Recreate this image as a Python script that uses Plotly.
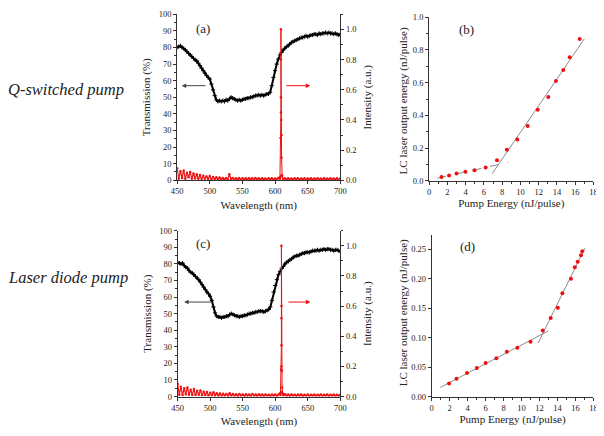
import plotly.graph_objects as go

# ---------------- data ----------------
wl = [450 + 2.5 * i for i in range(101)]

trans_a = [80, 80.5, 81, 80, 79.5, 78.5, 77.5, 76.5, 75.5, 74.5, 73.5,
           72.5, 72, 70.5, 69, 67.5, 66, 64.5, 63, 62, 61,
           58, 54.5, 51, 48.5, 47.5, 48, 47.5, 48, 47.5, 48.5,
           48, 49, 50, 49.5, 49, 48.5, 48, 48.5, 48, 48.5,
           49, 49, 49.5, 49.5, 50, 50, 50.5, 51, 51, 51.5,
           51, 51.5, 51, 51.5, 52, 52, 53, 57, 62, 66,
           70, 73, 75.5, 77, 78.5, 79.5, 80.5, 81, 82, 83,
           83.5, 84, 84.5, 85, 85.5, 86, 86, 86.5, 87, 86.5,
           87, 87.5, 87.5, 88, 88, 87.5, 88.5, 88, 88.5, 88.5,
           89, 88.5, 89, 88.5, 88.5, 88, 88.5, 88, 87.5, 88]

red_a = [0.08, 0.01, 0.06, 0.015, 0.065, 0.01, 0.05, 0.02, 0.055, 0.01, 0.045,
         0.012, 0.04, 0.01, 0.035, 0.008, 0.03, 0.01, 0.025, 0.008, 0.028,
         0.006, 0.022, 0.008, 0.02, 0.005, 0.018, 0.006, 0.016, 0.005, 0.015,
         0.006, 0.04, 0.005, 0.016, 0.004, 0.014, 0.005, 0.015, 0.004, 0.013,
         0.005, 0.014, 0.004, 0.013, 0.005, 0.014, 0.004, 0.015, 0.005, 0.013,
         0.004, 0.014, 0.005, 0.012, 0.004, 0.013, 0.005, 0.014, 0.004, 0.012,
         0.005, 0.015, 0.02, 0.035, 0.006, 0.014, 0.004, 0.013, 0.005, 0.012,
         0.004, 0.013, 0.005, 0.014, 0.004, 0.012, 0.005, 0.013, 0.004, 0.012,
         0.005, 0.013, 0.004, 0.012, 0.005, 0.014, 0.004, 0.012, 0.005, 0.013,
         0.004, 0.012, 0.005, 0.013, 0.004, 0.012, 0.005, 0.014, 0.004, 0.012]

spike_a_wl = [607.5, 608.5, 609, 609, 609, 609, 609.5, 610, 610, 611]
spike_a_int = [0.01, 0.28, 0.45, 1.0, 0.8, 0.55, 0.4, 0.3, 0.15, 0.03]

trans_c = [81, 80.5, 80, 80.5, 79, 78, 77.5, 76, 75, 74.5, 73.5,
           72.5, 71.5, 70.5, 69, 67.5, 66, 64.5, 63, 62, 60.5,
           58, 54, 50.5, 48.5, 48, 48, 47.5, 48, 48, 48.5,
           48.5, 49.5, 50, 49.5, 49, 48.5, 48.5, 48, 48.5, 48.5,
           49, 49, 49.5, 50, 50, 50.5, 50.5, 51, 51, 51.5,
           51.5, 51.5, 51, 51.5, 52, 52.5, 54, 58, 63, 67,
           70.5, 73.5, 75.5, 77.5, 78.5, 80, 81, 81.5, 82.5, 83,
           84, 84.5, 85, 85, 85.5, 86, 86.5, 86.5, 87, 87,
           87, 87.5, 88, 88, 88, 88.5, 88, 88.5, 88.5, 89,
           88.5, 89, 89, 88.5, 88.5, 88, 88.5, 88.5, 88, 87.5]

red_c = [0.085, 0.012, 0.065, 0.01, 0.055, 0.015, 0.06, 0.012, 0.045, 0.01, 0.05,
         0.01, 0.038, 0.012, 0.04, 0.008, 0.032, 0.01, 0.03, 0.007, 0.025,
         0.008, 0.028, 0.006, 0.022, 0.006, 0.02, 0.005, 0.018, 0.006, 0.016,
         0.005, 0.022, 0.006, 0.017, 0.005, 0.015, 0.004, 0.016, 0.005, 0.014,
         0.004, 0.015, 0.005, 0.014, 0.004, 0.016, 0.005, 0.013, 0.004, 0.015,
         0.005, 0.013, 0.004, 0.014, 0.005, 0.012, 0.004, 0.014, 0.005, 0.013,
         0.004, 0.014, 0.022, 0.03, 0.008, 0.015, 0.005, 0.013, 0.004, 0.014,
         0.005, 0.012, 0.004, 0.013, 0.005, 0.014, 0.004, 0.012, 0.005, 0.013,
         0.004, 0.012, 0.005, 0.013, 0.004, 0.012, 0.005, 0.013, 0.004, 0.012,
         0.005, 0.013, 0.004, 0.012, 0.005, 0.013, 0.004, 0.012, 0.005, 0.012]

spike_c_wl = [608, 609, 609.5, 609.5, 609.5, 609.5, 609.5, 610, 610.5, 611.5]
spike_c_int = [0.01, 0.18, 0.34, 1.0, 0.6, 0.52, 0.2, 0.17, 0.06, 0.02]

pump_b = [1.36, 2.18, 3.0, 3.97, 4.97, 6.19, 7.44, 8.52, 9.66, 10.8, 11.9, 13.06, 13.9, 14.7, 15.4, 16.5]
out_b = [0.024, 0.034, 0.046, 0.056, 0.066, 0.083, 0.127, 0.19, 0.254, 0.336, 0.435, 0.513, 0.61, 0.678, 0.755, 0.867]
fit_b1_x = [0.9, 8.7]
fit_b1_y = [0.017, 0.114]
fit_b2_x = [6.9, 17.0]
fit_b2_y = [0.044, 0.867]

pump_d = [1.93, 2.76, 3.93, 5.02, 6.0, 7.2, 8.36, 9.53, 11.0, 12.36, 13.24, 14.04, 14.55, 15.5, 15.93, 16.25, 16.62, 16.76]
out_d = [0.022, 0.030, 0.040, 0.0486, 0.057, 0.065, 0.076, 0.083, 0.093, 0.112, 0.1335, 0.151, 0.1755, 0.200, 0.2197, 0.229, 0.240, 0.247]
fit_d1_x = [0.95, 13.0]
fit_d1_y = [0.0155, 0.1115]
fit_d2_x = [11.85, 17.05]
fit_d2_y = [0.091, 0.252]

# ---------------- style ----------------
FONT = "Times New Roman, Liberation Serif, serif"
RED = "#ee1111"
GRAY = "#8c8c8c"
TXT = "#222222"
OFF = 8  # page body margin of the HTML page
W, H = 604 - OFF, 436 - OFF


def px_x(p):
    return (p - OFF) / W


def px_y(p):
    return 1 - (p - OFF) / H


fig = go.Figure()

# panel (a)
fig.add_trace(go.Scatter(x=wl, y=trans_a, mode="lines+markers", xaxis="x", yaxis="y",
                         line=dict(color="black", width=2),
                         marker=dict(symbol="cross-thin", size=3, line=dict(color="black", width=1))))
fig.add_trace(go.Scatter(x=wl, y=red_a, mode="lines+markers", xaxis="x", yaxis="y2",
                         line=dict(color=RED, width=1.2), marker=dict(color=RED, size=2.5)))
fig.add_trace(go.Scatter(x=spike_a_wl, y=spike_a_int, mode="lines+markers", xaxis="x", yaxis="y2",
                         line=dict(color=RED, width=1), marker=dict(color=RED, size=2.5)))

# panel (b)
fig.add_trace(go.Scatter(x=fit_b1_x, y=fit_b1_y, mode="lines", xaxis="x2", yaxis="y3",
                         line=dict(color=GRAY, width=1, dash="dash")))
fig.add_trace(go.Scatter(x=fit_b2_x, y=fit_b2_y, mode="lines", xaxis="x2", yaxis="y3",
                         line=dict(color=GRAY, width=1)))
fig.add_trace(go.Scatter(x=pump_b, y=out_b, mode="markers", xaxis="x2", yaxis="y3",
                         marker=dict(color=RED, size=4)))

# panel (c)
fig.add_trace(go.Scatter(x=wl, y=trans_c, mode="lines+markers", xaxis="x3", yaxis="y4",
                         line=dict(color="black", width=2),
                         marker=dict(symbol="cross-thin", size=3, line=dict(color="black", width=1))))
fig.add_trace(go.Scatter(x=wl, y=red_c, mode="lines+markers", xaxis="x3", yaxis="y5",
                         line=dict(color=RED, width=1.2), marker=dict(color=RED, size=2.5)))
fig.add_trace(go.Scatter(x=spike_c_wl, y=spike_c_int, mode="lines+markers", xaxis="x3", yaxis="y5",
                         line=dict(color=RED, width=1), marker=dict(color=RED, size=2.5)))

# panel (d)
fig.add_trace(go.Scatter(x=fit_d1_x, y=fit_d1_y, mode="lines", xaxis="x4", yaxis="y6",
                         line=dict(color=GRAY, width=1)))
fig.add_trace(go.Scatter(x=fit_d2_x, y=fit_d2_y, mode="lines", xaxis="x4", yaxis="y6",
                         line=dict(color=GRAY, width=1)))
fig.add_trace(go.Scatter(x=pump_d, y=out_d, mode="markers", xaxis="x4", yaxis="y6",
                         marker=dict(color=RED, size=4)))

tickfont = dict(family=FONT, size=8.5, color=TXT)
titlefont = dict(family=FONT, size=11, color=TXT)


def ax(**kw):
    base = dict(showline=True, linecolor="#333", linewidth=1, ticks="outside", ticklen=3,
                tickcolor="#333", tickfont=tickfont, showgrid=False, zeroline=False,
                title_font=titlefont,
                minor=dict(ticks="outside", ticklen=2, tickcolor="#333", nticks=2, showgrid=False))
    base.update(kw)
    return base


dom_a_x = [px_x(174.5), px_x(341)]
dom_a_y = [px_y(179.3), px_y(9.3)]
dom_b_x = [px_x(431.7), px_x(599.3)]
dom_b_y = [px_y(180), px_y(12.3)]
dom_c_x = [px_x(175), px_x(341)]
dom_c_y = [px_y(400.7), px_y(231)]
dom_d_x = [px_x(434.3), px_x(599.3)]
dom_d_y = [px_y(400.7), px_y(235)]

fig.update_layout(
    width=W, height=H, margin=dict(l=0, r=0, t=0, b=0),
    paper_bgcolor="white", plot_bgcolor="white", showlegend=False,
    font=dict(family=FONT, color=TXT),
    xaxis=ax(domain=dom_a_x, anchor="y", range=[450, 700], dtick=50,
             title=dict(text="Wavelength (nm)", standoff=5)),
    yaxis=ax(domain=dom_a_y, anchor="x", range=[0, 100], dtick=10,
             title=dict(text="Transmission (%)", standoff=5)),
    yaxis2=ax(overlaying="y", anchor="x", side="right", range=[0, 1.1], dtick=0.2,
              tickformat=".1f", title=dict(text="Intensity (a.u.)", standoff=6)),
    xaxis2=ax(domain=dom_b_x, anchor="y3", range=[0, 18], dtick=2,
              title=dict(text="Pump Energy (nJ/pulse)", standoff=2)),
    yaxis3=ax(domain=dom_b_y, anchor="x2", range=[0, 1.0], dtick=0.2, tickformat=".1f"),
    xaxis3=ax(domain=dom_c_x, anchor="y4", range=[450, 700], dtick=50,
              title=dict(text="Wavelength (nm)", standoff=5)),
    yaxis4=ax(domain=dom_c_y, anchor="x3", range=[0, 100], dtick=10,
              title=dict(text="Transmission (%)", standoff=5)),
    yaxis5=ax(overlaying="y4", anchor="x3", side="right", range=[0, 1.1], dtick=0.2,
              tickformat=".1f", title=dict(text="Intensity (a.u.)", standoff=6)),
    xaxis4=ax(domain=dom_d_x, anchor="y6", range=[0, 18], dtick=2,
              title=dict(text="Pump Energy (nJ/pulse)", standoff=2)),
    yaxis6=ax(domain=dom_d_y, anchor="x4", range=[0, 0.275], dtick=0.05, tickformat=".2f"),
)

ann = []
# arrows
for xr, yr, (x0, x1), y0, col in [("x", "y", (495.7, 457), 57, "#444"),
                                  ("x", "y", (615, 654), 57, RED),
                                  ("x3", "y4", (505.7, 460), 57, "#444"),
                                  ("x3", "y4", (618, 654), 57, RED)]:
    ann.append(dict(x=x1, y=y0, ax=x0, ay=y0, xref=xr, yref=yr, axref=xr, ayref=yr,
                    showarrow=True, arrowhead=2, arrowsize=0.9, arrowwidth=1, arrowcolor=col, text=""))
# panel labels
for txt, xr, yr, xv, yv in [("(a)", "x", "y", 490, 91.5), ("(b)", "x2", "y3", 4.1, 0.924),
                            ("(c)", "x3", "y4", 489, 92.5), ("(d)", "x4", "y6", 4.0, 0.255)]:
    ann.append(dict(text=txt, x=xv, y=yv, xref=xr, yref=yr, showarrow=False,
                    font=dict(family=FONT, size=13, color=TXT)))
# y titles of the energy panels
for yc in (98.5, 315.5):
    ann.append(dict(text="LC laser output energy (nJ/pulse)", x=px_x(405), y=px_y(yc),
                    xref="paper", yref="paper", textangle=-90, showarrow=False,
                    xanchor="center", yanchor="middle", font=titlefont))
# row labels
ann.append(dict(text="<i>Q-switched pump</i>", x=px_x(0), y=px_y(86), xref="paper", yref="paper",
                xanchor="left", yanchor="middle", showarrow=False,
                font=dict(family=FONT, size=16.5, color=TXT)))
ann.append(dict(text="<i>Laser diode pump</i>", x=px_x(0), y=px_y(279), xref="paper", yref="paper",
                xanchor="left", yanchor="middle", showarrow=False,
                font=dict(family=FONT, size=16.5, color=TXT)))
fig.update_layout(annotations=ann)

fig.write_html("out.html")
